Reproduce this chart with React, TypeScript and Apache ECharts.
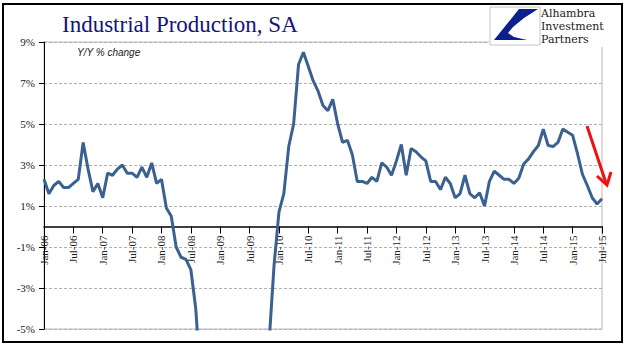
import React, { useEffect, useRef } from "react";
import * as echarts from "echarts";

const monthNames = ["Jan", "Feb", "Mar", "Apr", "May", "Jun", "Jul", "Aug", "Sep", "Oct", "Nov", "Dec"];
const yearLabels = ["06", "07", "08", "09", "10", "11", "12", "13", "14", "15"];
const lastLabel = "Jul-15";

// Industrial production, Y/Y % change, Jan-06 .. Jul-15 (values below -5 are off the chart)
const ipYoY = [
  2.3, 1.6, 2.0, 2.2, 1.9, 1.9, 2.1, 2.3, 4.1, 2.8,
  1.7, 2.1, 1.4, 2.6, 2.5, 2.8, 3.0, 2.6, 2.6, 2.4,
  2.9, 2.4, 3.1, 2.1, 2.3, 0.9, 0.5, -1.0, -1.5, -1.6,
  -2.1, -4.0, -7.5, -6.5, -8.0, -9.6, -11.2, -12.2, -13.0, -13.5,
  -14.5, -15.0, -13.5, -12.0, -10.5, -8.5, -5.6, -1.9, 0.7, 1.6,
  3.9, 5.0, 7.9, 8.5, 7.8, 7.1, 6.6, 5.9, 5.65, 6.2,
  5.0, 4.1, 4.2, 3.5, 2.2, 2.2, 2.1, 2.4, 2.2, 3.1,
  2.9, 2.5, 3.2, 4.0, 2.5, 3.8, 3.65, 3.4, 3.2, 2.2,
  2.2, 1.8, 2.4, 2.1, 1.4, 1.6, 2.5, 1.6, 1.4, 1.65,
  1.0, 2.2, 2.7, 2.5, 2.3, 2.3, 2.1, 2.35, 3.05, 3.3,
  3.65, 3.95, 4.75, 3.95, 3.9, 4.1, 4.75, 4.6, 4.45, 3.55,
  2.55, 2.0, 1.4, 1.1, 1.35,
];

const yMin = -5;
const yMax = 9;
const yStep = 2;

const titleText = "Industrial Production, SA";
const subtitleText = "Y/Y % change";
const logoLines = ["Alhambra", "Investment", "Partners"];

function buildCategories(): string[] {
  const out: string[] = [];
  for (const y of yearLabels) {
    for (const m of monthNames) {
      const lab = `${m}-${y}`;
      out.push(lab);
      if (lab === lastLabel) return out;
    }
  }
  return out;
}

export default function App() {
  const ref = useRef<HTMLDivElement>(null);

  useEffect(() => {
    const chart = echarts.init(ref.current!, null, { renderer: "svg" });
    const categories = buildCategories();
    const serif = "'Liberation Serif', 'Times New Roman', serif";

    const gridTop = 42;
    const gridBottom = 29;
    const plotH = 358 - gridTop - gridBottom;
    // move the category axis up to the zero line
    const zeroOffset = -(plotH * (0 - yMin)) / (yMax - yMin);

    chart.setOption({
      animation: false,
      backgroundColor: "#ffffff",
      grid: {
        left: 44,
        right: 39,
        top: gridTop,
        bottom: gridBottom,
        show: true,
        borderColor: "#b8b8b8",
        borderWidth: 1,
        backgroundColor: "transparent",
      },
      xAxis: {
        type: "category",
        data: categories,
        boundaryGap: false,
        position: "bottom",
        offset: zeroOffset,
        axisLine: { onZero: false, lineStyle: { color: "#000", width: 1.5 } },
        axisTick: { interval: 5, length: 7, lineStyle: { color: "#000", width: 1 } },
        axisLabel: {
          interval: 5,
          rotate: 90,
          margin: 9,
          fontFamily: serif,
          fontSize: 11,
          color: "#1a1a1a",
        },
        splitLine: { show: false },
      },
      yAxis: {
        type: "value",
        min: yMin,
        max: yMax,
        interval: yStep,
        axisLine: { show: true, onZero: false, lineStyle: { color: "#000", width: 1 } },
        axisTick: { show: true, length: 5, lineStyle: { color: "#000" } },
        axisLabel: {
          formatter: "{value}%",
          margin: 9,
          fontFamily: serif,
          fontSize: 11,
          color: "#1a1a1a",
        },
        splitLine: { show: true, lineStyle: { color: "#b0b0b0", type: [3, 2], width: 1 } },
      },
      series: [
        {
          type: "line",
          data: ipYoY,
          symbol: "none",
          smooth: false,
          clip: true,
          lineStyle: { color: "#3a6190", width: 3 },
          z: 3,
        },
      ],
      graphic: [
        {
          type: "rect",
          z: 100,
          shape: { x: 489, y: 6, width: 123, height: 41 },
          style: { fill: "#ffffff" },
        },
        {
          type: "rect",
          z: 101,
          shape: { x: 490, y: 7, width: 50, height: 38 },
          style: { fill: "#ffffff", stroke: "#c4c4c4", lineWidth: 1 },
        },
        {
          type: "polygon",
          z: 102,
          shape: {
            points: [
              [519, 9], [538, 9], [524, 18], [513, 27], [508, 33],
              [514, 37], [527, 40], [494, 40],
            ],
          },
          style: { fill: "#0c1f8c" },
        },
        ...logoLines.map((t, i) => ({
          type: "text",
          z: 102,
          x: 541,
          y: 8 + i * 13,
          style: {
            text: t,
            fontFamily: "'DejaVu Serif', serif",
            fontSize: 11,
            fill: "#1a1a1a",
            verticalAlign: "top",
            align: "left",
          },
        })),
        {
          type: "text",
          z: 102,
          x: 62,
          y: 24,
          style: {
            text: titleText,
            fontFamily: serif,
            fontSize: 23,
            fill: "#14147a",
            verticalAlign: "middle",
            align: "left",
          },
        },
        {
          type: "text",
          z: 102,
          x: 77,
          y: 52,
          style: {
            text: subtitleText,
            fontFamily: "'Liberation Sans', Arial, sans-serif",
            fontStyle: "italic",
            fontSize: 10,
            fill: "#222",
            verticalAlign: "middle",
            align: "left",
          },
        },
        {
          type: "line",
          z: 102,
          shape: { x1: 587, y1: 126, x2: 606, y2: 183 },
          style: { stroke: "#ee1111", lineWidth: 3 },
        },
        {
          type: "polyline",
          z: 102,
          shape: { points: [[597, 176], [607, 185], [611, 172]] },
          style: { stroke: "#ee1111", lineWidth: 3, fill: "none" },
        },
        {
          type: "rect",
          z: 103,
          shape: { x: 3, y: 4, width: 619, height: 338 },
          style: { fill: "none", stroke: "#000", lineWidth: 2 },
        },
      ],
    });

    return () => chart.dispose();
  }, []);

  return (
    <div
      ref={ref}
      style={{ position: "absolute", left: 0, top: 0, width: 641, height: 358, background: "#fff" }}
    />
  );
}
